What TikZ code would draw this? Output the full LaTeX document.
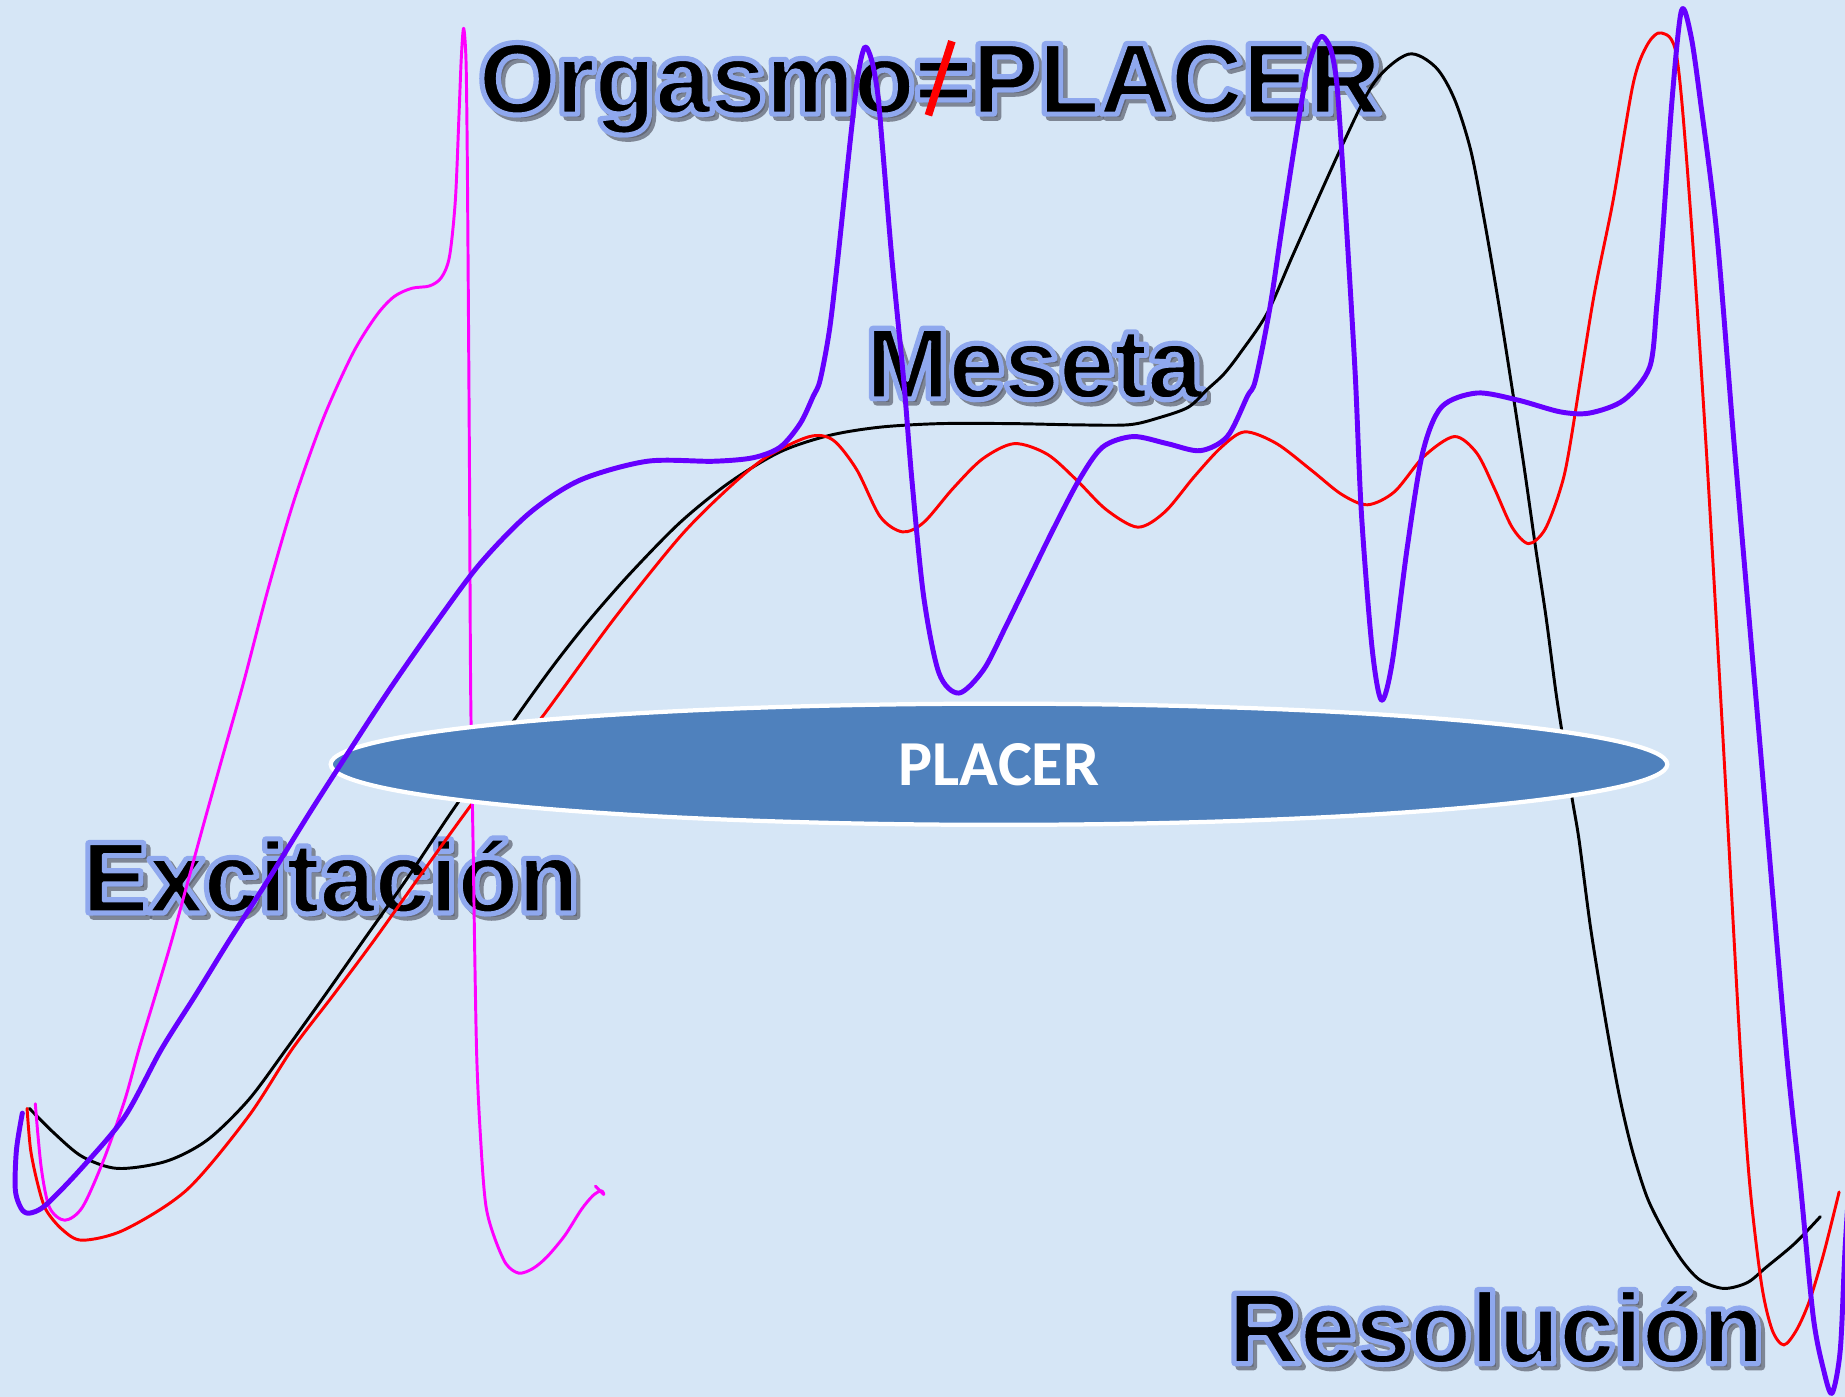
\documentclass[tikz,border=0pt]{standalone}
\usepackage{fontspec}
\setmainfont{Liberation Sans}
\newfontfamily\placerfont{Carlito}
\usetikzlibrary{calc,shapes.geometric}
\definecolor{bgblue}{RGB}{214,230,246}
\definecolor{outlineblue}{RGB}{143,168,238}
\definecolor{shadowgray}{RGB}{90,94,108}
\definecolor{curvepurple}{RGB}{102,0,255}
\definecolor{curvemagenta}{RGB}{255,0,255}
\definecolor{curvered}{RGB}{255,0,0}
\definecolor{placerblue}{RGB}{79,129,189}
\tikzset{
  lbltext/.style={anchor=base west, inner sep=0pt, outer sep=0pt,
    font=\fontsize{24}{28}\selectfont\bfseries},
  thincurve/.style={line width=0.25mm, line cap=round, line join=round},
  thickcurve/.style={line width=0.42mm, line cap=round, line join=round},
  placerbox/.style={ellipse, fill=placerblue, draw=white, line width=0.36mm,
    minimum width=113.6mm, minimum height=10.3mm, inner sep=0pt,
    text=white, font=\placerfont\fontsize{15.5}{18}\selectfont\bfseries},
  slash/.style={draw=curvered, line width=0.65mm}
}
% glyphs filled in the node's text colour and stroked on top (stroke colour #1, width #2 bp)
\newcommand{\strokedtext}[3]{%
  \special{pdf:literal direct #1 RG #2 w 1 j 1 J 2 Tr}#3\special{pdf:literal direct 0 Tr}}
\newcommand{\fancylabel}[3]{%
  \node[lbltext, text=shadowgray, opacity=0.7] at ($(#2)+(3.5,3.5)$)
    {\strokedtext{0.353 0.369 0.424}{1.8}{#3}};
  \node[lbltext, text=outlineblue] at (#2)
    {\strokedtext{0.561 0.659 0.933}{1.8}{#3}};
  \node[lbltext, text=black] (#1) at (#2)
    {\strokedtext{0.561 0.659 0.933}{0.7}{#3}};
}
\begin{document}
\begin{tikzpicture}[x=0.1mm,y=-0.1mm]
\useasboundingbox (0,0) rectangle (1568,1187);
\fill[bgblue] (0,0) rectangle (1568,1187);
\begin{scope}
\clip (0,0) rectangle (1568,1187);

% labels
\fancylabel{orgasmo}{407,96}{Orgasmo=PLACER}
\fancylabel{meseta}{736,338}{Meseta}
\fancylabel{excitacion}{70,775}{Excitación}
\fancylabel{resolucion}{1044,1158}{Resolución}

% red slash turning = into a not-equal sign
\coordinate (slashlow) at (789,98);
\coordinate (slashhigh) at (809,35);
\draw[slash] (slashlow) -- (slashhigh);

% black curve
\draw[thincurve, black] plot[smooth, tension=0.5] coordinates {
(25,942) (46,963) (70,983) (100,993) (141,987) (176,969) (211,935) (243,892)
(276,846) (309,799) (345,748) (379,697) (410,652) (439,609) (470,566) (500,528)
(535,488) (578,444) (620,410) (663,384) (705,370) (748,363) (799,360) (860,360)
(912,361) (959,361) (985,355) (1010,346) (1026,331) (1040,318) (1054,300)
(1077,266) (1100,214) (1140,125) (1168,70) (1197,46) (1220,57) (1236,84)
(1250,128) (1262,190) (1274,260) (1284,323) (1295,395) (1305,465) (1314,525)
(1322,586) (1327,619) (1336,678) (1342,714) (1352,790) (1365,870) (1376,930)
(1387,977) (1400,1018) (1415,1048) (1430,1072) (1445,1088) (1465,1095)
(1485,1090) (1501,1077) (1525,1057) (1547,1034)};

% red curve
\draw[thincurve, curvered] plot[smooth, tension=0.5] coordinates {
(23,942) (26,977) (32,1006) (39,1028) (53,1045) (70,1054) (106,1045) (159,1011)
(211,949) (248,892) (283,846) (318,799) (360,740) (402,682) (432,644) (461,609)
(521,527) (578,456) (620,414) (652,388) (688,371) (708,374) (728,399) (748,439)
(767,452) (785,444) (810,415) (835,390) (862,377) (890,386) (915,408) (940,433)
(967,448) (990,435) (1015,405) (1038,380) (1058,367) (1085,377) (1115,400)
(1140,420) (1162,429) (1185,418) (1210,388) (1236,371) (1255,385) (1270,415)
(1285,448) (1299,462) (1313,450) (1326,416) (1334,380) (1354,255) (1371,170)
(1388,71) (1400,38) (1412,28) (1425,48) (1436,170) (1450,380) (1465,640)
(1479,892) (1487,1006) (1497,1091) (1506,1130) (1516,1143) (1527,1130)
(1538,1105) (1550,1065) (1563,1013)};

% magenta curve
\draw[thincurve, curvemagenta] plot[smooth, tension=0.5] coordinates {
(30,938) (35,992) (42,1026) (55,1037) (70,1026) (88,986) (106,935) (118,892)
(132,846) (146,799) (160,748) (174,697) (190,640) (207,580) (228,500) (250,425)
(275,355) (300,300) (320,268) (335,252) (350,245) (365,243) (375,236) (382,218)
(387,170) (390,100) (392,50) (394,24) (396,50) (397,120) (398,250) (399,400)
(400,586) (402,714) (405,892) (409,977) (413,1025) (420,1051) (430,1074)
(441,1082) (453,1078) (465,1068) (480,1050) (494,1028) (504,1016) (511,1012)
(513,1015) (506,1008)};

% ellipse
\node[placerbox] (placer) at (849,649.5) {PLACER};

% purple curve
\draw[thickcurve, curvepurple] plot[smooth, tension=0.5] coordinates {
(19,946) (14,977) (13,1011) (18,1027) (25,1031) (39,1024) (70,992) (106,949)
(137,892) (166,846) (195,799) (229,746) (263,691) (297,638) (331,586) (370,530)
(408,479) (450,436) (493,408) (550,392) (606,392) (640,389) (663,380) (680,360)
(691,337) (697,323) (705,280) (712,220) (722,125) (729,65) (735,40) (741,52)
(746,80) (750,125) (758,220) (768,323) (775,408) (785,507) (798,572) (815,589)
(836,569) (855,532) (874,493) (895,450) (917,408) (937,380) (963,371) (992,377)
(1020,383) (1043,371) (1060,337) (1067,323) (1079,263) (1090,190) (1100,125)
(1110,65) (1118,38) (1124,31) (1131,42) (1136,70) (1140,125) (1146,220)
(1152,323) (1157,436) (1166,550) (1174,595) (1183,564) (1196,465) (1209,385)
(1225,346) (1255,334) (1290,340) (1326,350) (1351,351) (1380,340) (1402,312)
(1408,260) (1413,198) (1421,85) (1429,9) (1437,30) (1445,85) (1459,198)
(1474,380) (1496,636) (1518,892) (1530,1006) (1541,1119) (1550,1165)
(1557,1184) (1564,1147) (1568,1062) (1572,1000)};
\end{scope}
\end{tikzpicture}
\end{document}
